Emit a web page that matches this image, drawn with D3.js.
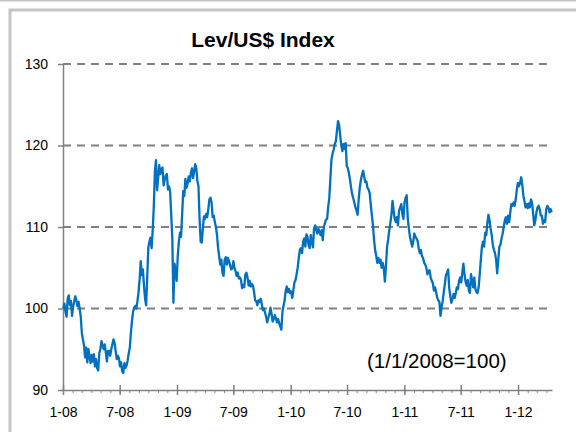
<!DOCTYPE html>
<html>
<head>
<meta charset="utf-8">
<script src="https://cdn.jsdelivr.net/npm/d3@7"></script>
<style>
  html, body { margin: 0; padding: 0; background: #fff; }
  svg { display: block; font-family: "Liberation Sans", Arial, sans-serif; }
</style>
</head>
<body>
<svg id="chart" width="576" height="432"></svg>
<script>
// ---- data -------------------------------------------------------------
const titleText = "Lev/US$ Index";
const noteText = "(1/1/2008=100)";
const yTickValues = [90, 100, 110, 120, 130];
const gridValues = [100, 110, 120, 130];
const xTickDates = ["2008-01-01", "2008-07-01", "2009-01-01", "2009-07-01", "2010-01-01",
                    "2010-07-01", "2011-01-01", "2011-07-01", "2012-01-01"];
const xTickLabels = ["1-08", "7-08", "1-09", "7-09", "1-10", "7-10", "1-11", "7-11", "1-12"];
const axisStart = "2008-01-01";
const axisEnd = "2012-04-19";

// Index readings every 3.5 days (Wednesday and Saturday noon), from 2 Jan 2008
const seriesStart = "2008-01-02";
const stepHours = 84;

const idx2008 = [
  100.0,100.6, 99.6,99.0, 101.2,101.6, 100.4,100.9, 99.1,100.2,           // Jan
  100.9,101.5, 101.0,100.3, 100.8,100.0, 99.0,97.0,                       // Feb
  96.2,95.5, 94.0,95.2, 93.4,95.0, 94.2,93.3,                             // Mar
  94.3,93.5, 94.4,92.9, 93.8,92.7, 92.4,94.5, 95.0,96.0,                  // Apr
  95.4,95.0, 95.6,94.6, 93.5,94.8, 94.8,94.2,                             // May
  95.0,95.6, 96.2,95.8, 94.8,93.8, 94.2,93.9,                             // Jun
  92.9,93.4, 92.3,92.1, 93.3,92.7, 93.0,93.6, 94.5,95.2,                  // Jul
  97.0,98.5, 99.6,100.1, 100.3,100.0, 100.9,102.0,                        // Aug
  103.6,105.8, 104.1,104.8, 102.8,101.2, 100.4,104.0,                     // Sep
  107.5,108.2, 108.7,107.4, 109.6,112.5, 116.8,118.2, 114.5,116.0,        // Oct
  117.6,116.5, 117.1,117.3, 115.1,115.8, 116.3,116.5,                     // Nov
  114.6,115.0, 114.3,111.5, 108.5,100.7, 105.5,104.6, 103.4,106.5         // Dec
];
const idx2009 = [
  108.2,109.3, 108.8,111.5, 114.4,113.8, 115.9,114.8,                     // Jan
  115.3,116.2, 115.6,116.6, 117.2,116.0, 116.8,117.7,                     // Feb
  117.2,115.6, 115.0,111.0, 108.2,108.1, 109.8,111.3,                     // Mar
  111.0,111.6, 111.2,112.2, 113.4,113.6, 113.0,111.2, 111.4,110.6,        // Apr
  110.0,109.0, 107.4,106.4, 105.4,106.0, 104.4,104.0,                     // May
  106.0,106.3, 105.4,106.2, 105.8,105.3, 104.8,104.9,                     // Jun
  105.8,105.0, 104.6,104.0, 104.4,103.7, 103.8,103.5, 102.5,102.9,        // Jul
  102.6,104.2, 104.4,103.8, 102.8,103.4, 102.7,103.0,                     // Aug
  102.8,102.0, 101.0,100.9, 100.4,101.0, 100.8,101.2, 100.6,99.8,         // Sep
  100.0,99.5, 99.0,98.3, 98.8,99.3, 100.1,99.4,                           // Oct
  98.4,98.7, 99.2,98.8, 98.3,98.7, 98.2,97.8,                             // Nov
  97.4,99.6, 100.3,101.0, 102.2,102.7, 102.0,102.4, 101.9,102.1           // Dec
];
const idx2010 = [
  101.3,102.2, 103.2,103.5, 104.2,105.0, 106.2,107.2,                     // Jan
  107.4,106.8, 108.2,108.6, 107.6,109.1, 108.8,107.8,                     // Feb
  107.4,109.0, 108.2,107.5, 109.8,110.2, 109.6,109.2, 109.8,109.4,        // Mar
  109.0,109.6, 108.4,110.0, 110.5,110.9, 111.0,112.5,                     // Apr
  113.6,116.0, 118.3,119.0, 119.5,120.2, 120.5,121.8,                     // May
  123.0,122.5, 121.2,120.0, 119.3,120.2, 119.6,120.3, 117.5,117.2,        // Jun
  116.6,115.8, 114.8,114.0, 113.5,113.0, 112.4,112.0,                     // Jul
  111.5,113.5, 114.9,115.8, 116.4,116.9, 116.2,115.5,                     // Aug
  115.6,114.8, 114.6,114.2, 112.8,111.5, 110.3,108.5, 107.2,106.5,        // Sep
  105.6,106.2, 105.6,106.0, 105.0,105.6, 104.9,103.3,                     // Oct
  105.3,107.6, 108.5,109.6, 110.5,111.5, 113.2,112.0,                     // Nov
  111.0,110.6, 111.2,110.2, 112.0,112.4, 112.8,111.6, 111.0,113.0         // Dec
];
const idx2011 = [
  113.6,113.9, 111.0,109.8, 108.8,108.2, 107.6,108.2,                     // Jan
  109.2,108.8, 108.6,108.3, 107.4,106.8, 107.2,106.4,                     // Feb
  106.2,105.6, 105.4,105.0, 104.2,104.6, 104.7,103.8, 103.4,103.1,        // Mar
  102.2,102.6, 102.0,101.3, 101.0,100.8, 99.1,100.2,                      // Apr
  100.9,102.0, 103.0,104.1, 104.4,104.8, 102.5,101.5,                     // May
  100.7,101.2, 101.8,101.3, 101.9,102.6, 102.4,103.4, 103.8,103.2,        // Jun
  104.4,105.5, 104.2,103.3, 102.8,103.5, 102.2,101.9,                     // Jul
  104.2,103.4, 102.6,103.8, 102.4,102.0, 101.9,102.6, 104.2,106.0,        // Aug
  107.6,108.2, 107.6,109.3, 109.0,110.5, 111.5,110.8,                     // Sep
  109.8,109.0, 107.8,107.2, 106.8,106.0, 104.3,106.0,                     // Oct
  107.6,107.8, 108.6,109.2, 110.0,110.8, 111.2,110.4, 111.4,110.6,        // Nov
  111.8,112.8, 112.6,113.0, 112.6,113.4, 114.6,115.4                      // Dec
];
const idx2012 = [
  115.0,115.4, 116.1,115.2, 113.9,113.2, 112.4,112.8,                     // Jan
  112.3,112.9, 112.4,113.4, 113.0,111.6, 110.2,110.8, 111.8,112.4,        // Feb
  112.6,112.2, 111.4,111.4, 110.4,110.8, 110.6,112.2,                     // Mar
  112.6,112.4, 111.8,112.2, 111.8                                         // Apr
];

// ---- build series -------------------------------------------------------
const parse = d3.utcParse("%Y-%m-%d");
const t0 = parse(seriesStart);
const values = [].concat(idx2008, idx2009, idx2010, idx2011, idx2012);
const series = values.map((v, i) => ({ date: d3.utcHour.offset(t0, i * stepHours), value: v }));

// ---- scales -------------------------------------------------------------
const plot = { left: 63, right: 552, top: 64, bottom: 390 };
const x = d3.scaleUtc().domain([parse(axisStart), parse(axisEnd)]).range([plot.left, plot.right]);
const y = d3.scaleLinear().domain([90, 130]).range([plot.bottom, plot.top]);

const svg = d3.select("#chart");
const axisGrey = "#808080";

// outer frame
svg.append("line")
  .attr("x1", 0).attr("x2", 576).attr("y1", 0.5).attr("y2", 0.5)
  .attr("stroke", "#c4c4c4").attr("stroke-width", 2);
svg.append("rect")
  .attr("x", 10).attr("y", 10).attr("width", 640).attr("height", 500)
  .attr("fill", "none").attr("stroke", "#c4c4c4").attr("stroke-width", 3);

// title
svg.append("text")
  .attr("x", 263).attr("y", 47)
  .attr("text-anchor", "middle")
  .attr("font-size", 21).attr("font-weight", "bold")
  .attr("fill", "#000")
  .text(titleText);

// dashed horizontal gridlines
svg.append("g").selectAll("line")
  .data(gridValues)
  .join("line")
  .attr("x1", plot.left).attr("x2", plot.right - 1)
  .attr("y1", d => y(d)).attr("y2", d => y(d))
  .attr("stroke", axisGrey).attr("stroke-width", 2)
  .attr("stroke-dasharray", "8,6");

// y axis
const yAxis = svg.append("g")
  .attr("transform", `translate(${plot.left},0)`)
  .call(d3.axisLeft(y).tickValues(yTickValues).tickSize(5).tickSizeOuter(0).tickPadding(10));
yAxis.select(".domain").attr("stroke", axisGrey).attr("stroke-width", 1.5);
yAxis.selectAll(".tick line").attr("stroke", axisGrey).attr("stroke-width", 1.5);
yAxis.selectAll(".tick text")
  .attr("font-size", 14).attr("fill", "#000")
  .attr("font-family", "'Liberation Sans', Arial, sans-serif");

// x axis: monthly minor ticks
const xMinor = svg.append("g")
  .attr("transform", `translate(0,${plot.bottom})`)
  .call(d3.axisBottom(x).ticks(d3.utcMonth.every(1)).tickSize(3).tickSizeOuter(0).tickFormat(""));
xMinor.select(".domain").attr("stroke", axisGrey).attr("stroke-width", 1.5);
xMinor.selectAll(".tick line").attr("stroke", axisGrey).attr("stroke-width", 1);

// x axis: half-year major ticks crossing the axis, with labels
const xMajor = svg.append("g")
  .attr("transform", `translate(0,${plot.bottom})`)
  .call(d3.axisBottom(x)
    .tickValues(xTickDates.map(parse))
    .tickSize(5).tickSizeOuter(0).tickPadding(12)
    .tickFormat((d, i) => xTickLabels[i]));
xMajor.select(".domain").remove();
xMajor.selectAll(".tick line")
  .attr("y1", -5).attr("y2", 5)
  .attr("stroke", axisGrey).attr("stroke-width", 1.5);
xMajor.selectAll(".tick text")
  .attr("font-size", 14).attr("fill", "#000")
  .attr("font-family", "'Liberation Sans', Arial, sans-serif");

// index line
const line = d3.line()
  .x(d => x(d.date))
  .y(d => y(d.value));
svg.append("path")
  .datum(series)
  .attr("d", line)
  .attr("fill", "none")
  .attr("stroke", "#0070C0")
  .attr("stroke-width", 2.3)
  .attr("stroke-linejoin", "round");

// base note
svg.append("text")
  .attr("x", 367).attr("y", 368)
  .attr("font-size", 20.5).attr("fill", "#000")
  .text(noteText);
</script>
</body>
</html>
